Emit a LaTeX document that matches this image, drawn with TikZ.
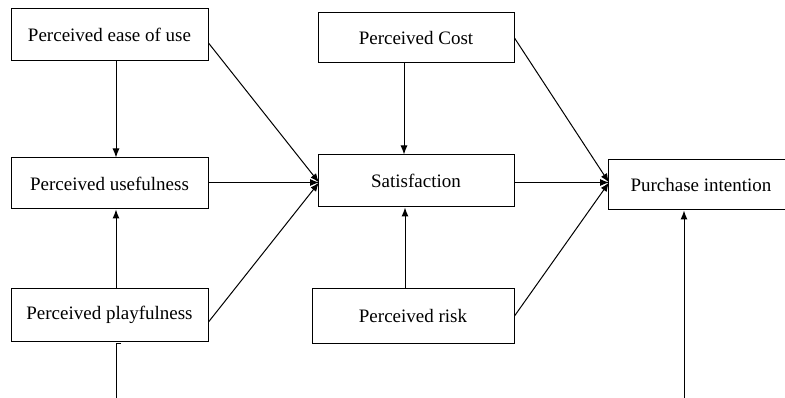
\documentclass[tikz,border=0pt]{standalone}
\usepackage{fontspec}
\setmainfont{Liberation Serif}
\usetikzlibrary{arrows.meta}
\begin{document}
\begin{tikzpicture}[
    x=1pt,y=-1pt,
    bloco/.style={rectangle,draw,line width=1pt,inner sep=0pt,font=\fontsize{19}{21}\selectfont},
    seta/.style={line width=1pt,-{Latex[length=9pt,width=7pt]}},
    linha/.style={line width=1pt}
]
\useasboundingbox (0,0) rectangle (785,398);
\clip (0,0) rectangle (785,398);
\node[bloco,minimum width=197pt,minimum height=52pt] (ease) at (109.5,35) {Perceived ease of use};
\node[bloco,minimum width=197pt,minimum height=51pt] (useful) at (109.5,183.5) {Perceived usefulness};
\node[bloco,minimum width=197pt,minimum height=52pt] (playful) at (109.5,315) {Perceived playfulness};
\node[bloco,minimum width=196pt,minimum height=50pt] (cost) at (416,38) {Perceived Cost};
\node[bloco,minimum width=196pt,minimum height=52pt] (satis) at (416,181) {Satisfaction};
\node[bloco,minimum width=202pt,minimum height=54pt] (risk) at (413,316) {Perceived risk};
\node[bloco,minimum width=186pt,minimum height=50pt] (purchase) at (701,185) {Purchase intention};
\coordinate (pb) at (116,400);
\coordinate (pib) at (684,400);
\coordinate (satin) at (319,182.5);
\coordinate (purin) at (609,182.5);

\draw[seta] ([xshift=6.5pt]ease.south) -- ([xshift=6.5pt]useful.north);
\draw[seta] ([xshift=6.5pt]playful.north) -- ([xshift=6.5pt]useful.south);
\draw[linha] ([xshift=11.5pt,yshift=-2pt]playful.south) -| (pb);
\draw[seta] ([yshift=-8pt]ease.east) -- (satin);
\draw[seta] (useful.east |- satin) -- (satin);
\draw[seta] ([yshift=-7pt]playful.east) -- (satin);

\draw[seta] ([xshift=-12pt]cost.south) -- ([xshift=-12pt]satis.north);
\draw[seta] ([xshift=-8pt]risk.north) -- ([xshift=-11pt]satis.south);
\draw[seta] (cost.east) -- (purin);
\draw[seta] (satis.east |- purin) -- (purin);
\draw[seta] (risk.east) -- (purin);
\draw[seta] (pib) -- (pib |- purchase.south);
\end{tikzpicture}
\end{document}
